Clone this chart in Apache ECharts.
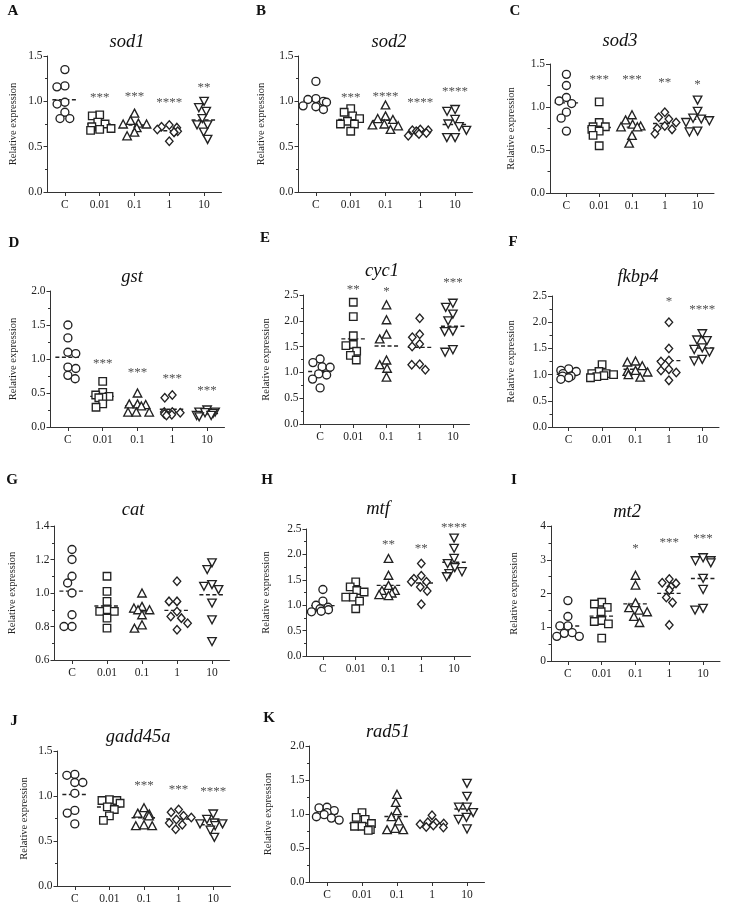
<!DOCTYPE html>
<html><head><meta charset="utf-8">
<script src="https://cdn.jsdelivr.net/npm/echarts@6/dist/echarts.min.js"></script>
<style>html,body{margin:0;padding:0;background:#fff}#c{width:733px;height:905px}</style>
</head><body><div id="c"></div>
<script>
// ---------------- DATA ----------------
const categories = ['C', '0.01', '0.1', '1', '10'];

const sod1 = [
  [1.35, 1.17, 1.16, 0.99, 0.97, 0.88, 0.81, 0.81],
  [0.85, 0.84, 0.77, 0.75, 0.72, 0.70, 0.69, 0.68],
  [0.87, 0.79, 0.76, 0.75, 0.75, 0.71, 0.66, 0.62],
  [0.74, 0.72, 0.71, 0.69, 0.67, 0.66, 0.66, 0.56],
  [1.00, 0.93, 0.89, 0.81, 0.74, 0.74, 0.66, 0.58]
];
const sod1Stars = ['', '***', '***', '****', '**'];
const sod1StarY = [0, 1.07, 1.085, 1.02, 1.19];

const sod2 = [
  [1.22, 1.03, 1.02, 1.00, 0.99, 0.95, 0.94, 0.91],
  [0.92, 0.88, 0.84, 0.81, 0.78, 0.75, 0.75, 0.67],
  [0.96, 0.84, 0.81, 0.80, 0.75, 0.74, 0.73, 0.69],
  [0.69, 0.68, 0.68, 0.67, 0.66, 0.65, 0.64, 0.62],
  [0.91, 0.89, 0.80, 0.75, 0.72, 0.68, 0.60, 0.60]
];
const sod2Stars = ['', '***', '****', '****', '****'];
const sod2StarY = [0, 1.08, 1.09, 1.02, 1.14];

const sod3 = [
  [1.38, 1.25, 1.11, 1.07, 1.04, 0.94, 0.87, 0.72],
  [1.06, 0.82, 0.77, 0.77, 0.74, 0.72, 0.67, 0.55],
  [0.91, 0.85, 0.80, 0.78, 0.77, 0.77, 0.67, 0.58],
  [0.94, 0.88, 0.86, 0.82, 0.78, 0.75, 0.74, 0.69],
  [1.08, 0.95, 0.87, 0.86, 0.84, 0.82, 0.72, 0.71]
];
const sod3Stars = ['', '***', '***', '**', '*'];
const sod3StarY = [0, 1.35, 1.35, 1.32, 1.30];

const gst = [
  [1.50, 1.31, 1.10, 1.08, 0.88, 0.86, 0.76, 0.71],
  [0.67, 0.51, 0.47, 0.45, 0.44, 0.43, 0.34, 0.29],
  [0.50, 0.34, 0.34, 0.33, 0.31, 0.22, 0.22, 0.22],
  [0.47, 0.43, 0.22, 0.22, 0.21, 0.19, 0.18, 0.17],
  [0.25, 0.22, 0.22, 0.21, 0.20, 0.17, 0.17, 0.15]
];
const gstStars = ['', '***', '***', '***', '***'];
const gstStarY = [0, 0.98, 0.85, 0.75, 0.58];

const cyc1 = [
  [1.26, 1.19, 1.11, 1.10, 0.97, 0.95, 0.87, 0.70],
  [2.36, 2.08, 1.71, 1.54, 1.52, 1.41, 1.33, 1.24],
  [2.31, 2.02, 1.74, 1.65, 1.24, 1.15, 1.08, 0.91],
  [2.05, 1.74, 1.68, 1.55, 1.50, 1.16, 1.15, 1.05],
  [2.34, 2.26, 2.13, 2.00, 1.80, 1.79, 1.44, 1.39]
];
const cyc1Stars = ['', '**', '*', '', '***'];
const cyc1StarY = [0, 2.66, 2.62, 0, 2.79];

const fkbp4 = [
  [1.11, 1.08, 1.06, 1.02, 0.97, 0.97, 0.94, 0.91],
  [1.19, 1.06, 1.02, 1.02, 1.00, 0.98, 0.96, 0.94],
  [1.26, 1.24, 1.17, 1.08, 1.06, 1.05, 1.00, 0.95],
  [2.00, 1.50, 1.27, 1.25, 1.10, 1.08, 1.04, 0.89],
  [1.78, 1.66, 1.65, 1.51, 1.48, 1.43, 1.29, 1.26]
];
const fkbp4Stars = ['', '', '', '*', '****'];
const fkbp4StarY = [0, 0, 0, 2.45, 2.29];

const cat = [
  [1.26, 1.20, 1.10, 1.06, 1.00, 0.87, 0.80, 0.80],
  [1.10, 1.01, 0.95, 0.90, 0.89, 0.89, 0.85, 0.79],
  [1.00, 0.92, 0.91, 0.90, 0.90, 0.87, 0.81, 0.79],
  [1.07, 0.95, 0.95, 0.89, 0.86, 0.85, 0.82, 0.78],
  [1.18, 1.14, 1.05, 1.04, 1.02, 0.94, 0.84, 0.71]
];
const catStars = ['', '', '', '', ''];
const catStarY = [0, 0, 0, 0, 0];

const mtf = [
  [1.31, 1.08, 1.00, 0.96, 0.93, 0.91, 0.88, 0.87],
  [1.46, 1.36, 1.29, 1.26, 1.16, 1.16, 1.08, 0.93],
  [1.92, 1.59, 1.39, 1.29, 1.29, 1.24, 1.21, 1.19],
  [1.82, 1.58, 1.52, 1.46, 1.46, 1.36, 1.28, 1.02],
  [2.32, 2.12, 1.92, 1.82, 1.74, 1.66, 1.62, 1.56]
];
const mtfStars = ['', '', '**', '**', '****'];
const mtfStarY = [0, 0, 2.25, 2.18, 2.59];

const mt2 = [
  [1.79, 1.32, 1.04, 1.04, 0.84, 0.82, 0.73, 0.73],
  [1.74, 1.69, 1.59, 1.46, 1.20, 1.17, 1.10, 0.68],
  [2.54, 2.25, 1.73, 1.58, 1.51, 1.46, 1.32, 1.14],
  [2.43, 2.32, 2.30, 2.20, 2.10, 1.88, 1.73, 1.07],
  [3.06, 2.97, 2.97, 2.91, 2.45, 2.12, 1.56, 1.51]
];
const mt2Stars = ['', '', '*', '***', '***'];
const mt2StarY = [0, 0, 3.43, 3.61, 3.72];

const gadd45a = [
  [1.24, 1.23, 1.15, 1.15, 1.03, 0.84, 0.81, 0.69],
  [0.96, 0.95, 0.95, 0.92, 0.88, 0.85, 0.78, 0.73],
  [0.87, 0.81, 0.80, 0.79, 0.78, 0.68, 0.67, 0.67],
  [0.85, 0.82, 0.78, 0.76, 0.74, 0.70, 0.68, 0.63],
  [0.80, 0.74, 0.70, 0.69, 0.69, 0.67, 0.62, 0.54]
];
const gadd45aStars = ['', '', '***', '***', '****'];
const gadd45aStarY = [0, 0, 1.15, 1.11, 1.08];

const rad51 = [
  [1.10, 1.09, 1.05, 1.02, 0.99, 0.96, 0.94, 0.91],
  [1.02, 0.95, 0.92, 0.86, 0.82, 0.82, 0.77, 0.76],
  [1.29, 1.17, 1.05, 0.96, 0.90, 0.79, 0.77, 0.77],
  [0.98, 0.88, 0.87, 0.86, 0.85, 0.83, 0.81, 0.80],
  [1.45, 1.26, 1.10, 1.10, 1.02, 0.95, 0.92, 0.78]
];
const rad51Stars = ['', '', '', '', ''];
const rad51StarY = [0, 0, 0, 0, 0];

// ---------------- LAYOUT ----------------
const FONT = '"Liberation Serif","Times New Roman",serif';
const INK = '#222';
const panels = [
  {gene:'sod1', letter:'A', d:sod1, s:sod1Stars, sy:sod1StarY, g:[47.5,56,174,136], y:[0,1.5,0.5,1], t:[127,42], l:[13,11], ng:29},
  {gene:'sod2', letter:'B', d:sod2, s:sod2Stars, sy:sod2StarY, g:[298.5,56,174,136], y:[0,1.5,0.5,1], t:[389,42], l:[261,11], ng:32},
  {gene:'sod3', letter:'C', d:sod3, s:sod3Stars, sy:sod3StarY, g:[550,64,164,129], y:[0,1.5,0.5,1], t:[620,41], l:[515,11], ng:33},
  {gene:'gst', letter:'D', d:gst, s:gstStars, sy:gstStarY, g:[50.5,291,174,136], y:[0,2,0.5,1], t:[132,277], l:[14,243], ng:32},
  {gene:'cyc1', letter:'E', d:cyc1, s:cyc1Stars, sy:cyc1StarY, g:[303.5,295,166,129], y:[0,2.5,0.5,1], t:[382,271], l:[265,238], ng:32},
  {gene:'fkbp4', letter:'F', d:fkbp4, s:fkbp4Stars, sy:fkbp4StarY, g:[552,296,167,131], y:[0,2.5,0.5,1], t:[638,277], l:[513,242], ng:35},
  {gene:'cat', letter:'G', d:cat, s:catStars, sy:catStarY, g:[54.5,526,175,134], y:[0.6,1.4,0.2,1], t:[133,510], l:[12,480], ng:37},
  {gene:'mtf', letter:'H', d:mtf, s:mtfStars, sy:mtfStarY, g:[306.5,529,164,127], y:[0,2.5,0.5,1], t:[378,509], l:[267,480], ng:35},
  {gene:'mt2', letter:'I', d:mt2, s:mt2Stars, sy:mt2StarY, g:[551,526,169,135], y:[0,4,1,0], t:[627,512], l:[514,480], ng:31},
  {gene:'gadd45a', letter:'J', d:gadd45a, s:gadd45aStars, sy:gadd45aStarY, g:[57.5,751,173,135], y:[0,1.5,0.5,1], t:[138,737], l:[14,721], ng:28},
  {gene:'rad51', letter:'K', d:rad51, s:rad51Stars, sy:rad51StarY, g:[309.5,746,175,136], y:[0,2,0.5,1], t:[388,732], l:[269,718], ng:36}
];

const symbols = [
  {symbol:'circle', size:8, rot:0},
  {symbol:'rect', size:7.5, rot:0},
  {symbol:'triangle', size:[8.5,8], rot:0},
  {symbol:'diamond', size:[7.5,8.5], rot:0},
  {symbol:'triangle', size:[8.5,8], rot:180}
];

const grid = [], xAxis = [], yAxis = [], series = [], graphics = [];
const axisLineStyle = {color:'#333', width:1};

panels.forEach((p, i) => {
  grid.push({left:p.g[0], top:p.g[1], width:p.g[2], height:p.g[3], containLabel:false});
  xAxis.push({
    type:'category', gridIndex:i, data:categories,
    jitter: 30, jitterOverlap: false, jitterMargin: 0,
    axisLine:{show:true, onZero:false, lineStyle:axisLineStyle},
    axisTick:{show:true, alignWithLabel:true, length:4, lineStyle:axisLineStyle},
    axisLabel:{fontFamily:FONT, fontSize:11.5, color:INK, margin:7},
    splitLine:{show:false}
  });
  const dec = p.y[3];
  yAxis.push({
    type:'value', gridIndex:i, min:p.y[0], max:p.y[1], interval:p.y[2],
    axisLine:{show:true, lineStyle:axisLineStyle},
    axisTick:{show:true, length:4, lineStyle:axisLineStyle},
    minorTick:{show:true, splitNumber:2, length:2.5, lineStyle:axisLineStyle},
    splitLine:{show:false},
    axisLabel:{fontFamily:FONT, fontSize:11.5, color:INK, margin:5,
      formatter: v => Number(v).toFixed(dec)},
    name:'Relative expression', nameLocation:'middle', nameGap:p.ng, nameRotate:90,
    nameTextStyle:{fontFamily:FONT, fontSize:10.5, color:INK}
  });
  // mean lines (behind markers)
  const means = p.d.map(g => g.reduce((a,b)=>a+b,0)/g.length);
  series.push({
    type:'custom', xAxisIndex:i, yAxisIndex:i, z:1, silent:true,
    data: means.map((m,k)=>[k,m]),
    renderItem:(params, api) => {
      const pt = api.coord([api.value(0), api.value(1)]);
      const w = api.size([1,0])[0]*0.36;
      return {type:'line', shape:{x1:pt[0]-w, y1:pt[1], x2:pt[0]+w, y2:pt[1]},
        style:{stroke:'#222', lineWidth:1.4, lineDash:[4,2.5]}};
    }
  });
  // points
  p.d.forEach((grp, k) => {
    const sy = symbols[k];
    series.push({
      type:'scatter', xAxisIndex:i, yAxisIndex:i, z:3, silent:true,
      symbol:sy.symbol, symbolSize:sy.size, symbolRotate:sy.rot,
      itemStyle:{color:'#fff', borderColor:'#222', borderWidth:1.35, opacity:1},
      data: grp.map(v => [categories[k], v])
    });
  });
  // significance stars
  const starData = [];
  p.s.forEach((txt, k) => { if (txt) starData.push({value:[categories[k], p.sy[k]], name:txt}); });
  if (starData.length) {
    series.push({
      type:'scatter', xAxisIndex:i, yAxisIndex:i, z:4, silent:true, clip:false,
      symbolSize:0, data:starData,
      label:{show:true, position:'inside', formatter: q => q.name,
        fontFamily:FONT, fontSize:13, color:INK, offset:[0,3]}
    });
  }
  graphics.push({type:'text', x:p.t[0], y:p.t[1], style:{text:p.gene, fontFamily:FONT,
    fontStyle:'italic', fontSize:18.5, fill:'#111', textAlign:'center', textVerticalAlign:'middle'}});
  graphics.push({type:'text', x:p.l[0], y:p.l[1], style:{text:p.letter, fontFamily:FONT,
    fontWeight:'bold', fontSize:15, fill:'#111', textAlign:'center', textVerticalAlign:'middle'}});
});

const chart = echarts.init(document.getElementById('c'), null, {renderer:'canvas'});
chart.setOption({
  backgroundColor:'#fff', animation:false,
  grid, xAxis, yAxis, series, graphic:graphics
});
</script></body></html>
